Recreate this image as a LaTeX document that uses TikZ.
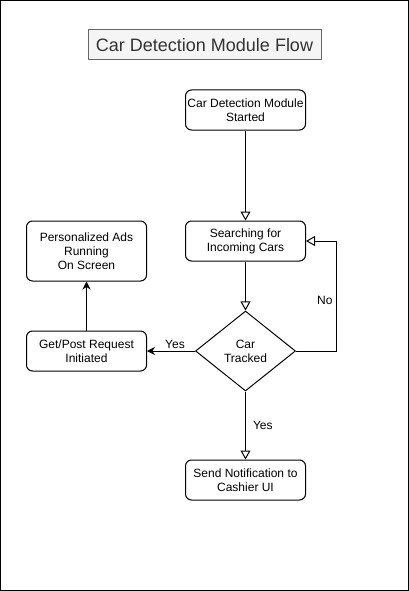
\documentclass[tikz,border=0pt]{standalone}
\usepackage{fontspec}
\setmainfont{Liberation Sans}
\usetikzlibrary{arrows.meta}
\usetikzlibrary{shapes.geometric}
\definecolor{titlefill}{HTML}{F5F5F5}
\definecolor{titledraw}{HTML}{666666}
\definecolor{titletext}{HTML}{333333}
\tikzstyle{heading} = [rectangle, minimum width=233pt, minimum height=30pt, draw=titledraw, fill=titlefill, text=titletext, font=\fontsize{18}{21}\selectfont]
\tikzstyle{process} = [rectangle, rounded corners=6pt, minimum width=120pt, minimum height=40pt, align=center, draw=black, inner sep=1pt, font=\fontsize{12}{14}\selectfont]
\tikzstyle{decision} = [diamond, minimum width=100pt, minimum height=80pt, aspect=1.25, inner sep=0pt, align=center, draw=black, font=\fontsize{12}{14}\selectfont]
\tikzstyle{arrow} = [line width=1pt, -{Triangle[open, length=9pt, width=10pt]}]
\tikzstyle{solidarrow} = [line width=1pt, -{Stealth[length=8pt, width=8pt]}]
\tikzstyle{edgelabel} = [font=\fontsize{12}{14}\selectfont, inner sep=2pt]
\begin{document}
\begin{tikzpicture}[x=1pt, y=-1pt, line width=1pt, node distance=120pt]

\useasboundingbox (0,0) rectangle (409,591);
\draw (0.5,0.5) rectangle (408.5,590);

\node [heading] (title) at (204.5,45) {Car Detection Module Flow};

\node [process] (start) at (245.5,110) {Car Detection Module\\Started};
\node [process, below of = start, yshift=-11pt] (search) {Searching for\\Incoming Cars};
\node [decision, below of = search, yshift=10pt] (tracked) {Car\\Tracked};
\node [process, below of = tracked, yshift=-9pt] (notify) {Send Notification to\\Cashier UI};
\node [process, left of = tracked, xshift=-39pt] (request) {Get/Post Request\\Initiated};
\node [process, above of = request, yshift=-20pt, minimum height=60pt] (ads) {Personalized Ads\\Running\\On Screen};

\draw [arrow] (start) -- (search);
\draw [arrow] (search) -- (tracked);
\draw [arrow] (tracked) -- node [edgelabel, right, xshift=5pt] {Yes} (notify);
\draw [arrow] (tracked.east) -- ++(40,0) |- node [edgelabel, left, pos=0.25, xshift=-1pt, yshift=-4pt] {No} (search.east);
\draw [solidarrow] (tracked.west) -- node [edgelabel, above, xshift=4pt] {Yes} (request.east);
\draw [solidarrow] (request) -- (ads);

\end{tikzpicture}
\end{document}
